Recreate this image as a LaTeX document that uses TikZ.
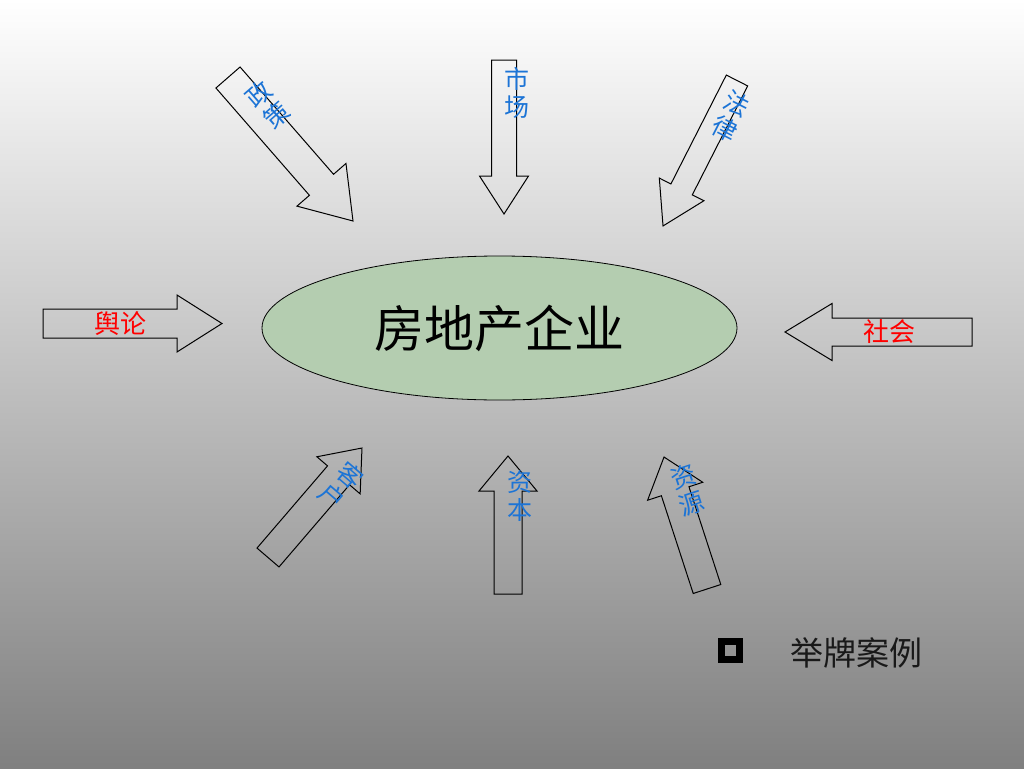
\documentclass[tikz,border=0pt]{standalone}
\usepackage{fontspec}
\newfontfamily\cjk{Noto Sans CJK SC}
\usetikzlibrary{shapes.geometric}
\definecolor{lblblue}{RGB}{28,116,214}
\definecolor{firmgreen}{RGB}{180,205,176}
\newcommand{\blockarr}[7]{% tail, angle, L, sw, hw, hl, name
  \begin{scope}[shift={#1}, rotate=#2]
    \draw[arrowline] (0,-#4/2) -- (#3-#6,-#4/2) -- (#3-#6,-#5/2) -- (#3,0) coordinate (#7) -- (#3-#6,#5/2) -- (#3-#6,#4/2) -- (0,#4/2) -- cycle;
  \end{scope}}
\begin{document}
\begin{tikzpicture}[x=1pt,y=-1pt,
  arrowline/.style={draw=black, line width=1pt, line join=miter},
  bluelbl/.style={text=lblblue, font=\cjk\fontsize{25}{28}\selectfont, align=center, inner sep=0pt},
  redlbl/.style={text=red, font=\cjk\fontsize{26}{28}\selectfont, inner sep=0pt},
  firm/.style={ellipse, draw=black, line width=0.8pt, fill=firmgreen, minimum width=475pt, minimum height=144pt, inner sep=0pt, font=\cjk\fontsize{50}{56}\selectfont}]
\useasboundingbox (0,0) rectangle (1024,768);
\shade[top color=white, bottom color=black!50] (0,0) rectangle (1024,768);
% ellipse
\node[firm] (firm) at (499.5,328) {房地产企业};
% arrows
\blockarr{(228,77.5)}{-48.94}{190.3}{32}{65}{48}{tipA}
\blockarr{(504,60)}{-90}{154}{25}{49}{38}{tipB}
\blockarr{(737,80.5)}{-116.96}{163.2}{24}{50}{41}{tipC}
\blockarr{(43,323.5)}{0}{179}{29}{57}{45}{tipD}
\blockarr{(972,332)}{180}{187}{28}{57}{47}{tipE}
\blockarr{(268,557.5)}{49.36}{144.3}{29}{57}{36}{tipF}
\blockarr{(508,594)}{90}{138}{28}{58}{35}{tipG}
\blockarr{(707,589)}{108.04}{138.8}{29}{58}{36}{tipH}
% labels
\node[bluelbl, rotate=41] (lA) at (268,105) {政\\策};
\node[bluelbl] (lB) at (517,93) {市\\场};
\node[bluelbl, rotate=-27] (lC) at (731,116.5) {法\\律};
\node[redlbl] (lD) at (120.5,324) {舆论};
\node[redlbl] (lE) at (889.5,332) {社会};
\node[bluelbl, rotate=-40.6] (lF) at (341.5,486) {客\\户};
\node[bluelbl] (lG) at (520,496) {资\\本};
\node[bluelbl, rotate=18] (lH) at (687.5,490) {资\\源};
% legend
\draw[line width=6.5pt, black] (721.5,641.5) rectangle (739.5,659.5);
\node[text=black!90, font=\cjk\fontsize{33}{38}\selectfont, inner sep=0pt] (legend) at (856.5,653) {举牌案例};
\end{tikzpicture}
\end{document}
